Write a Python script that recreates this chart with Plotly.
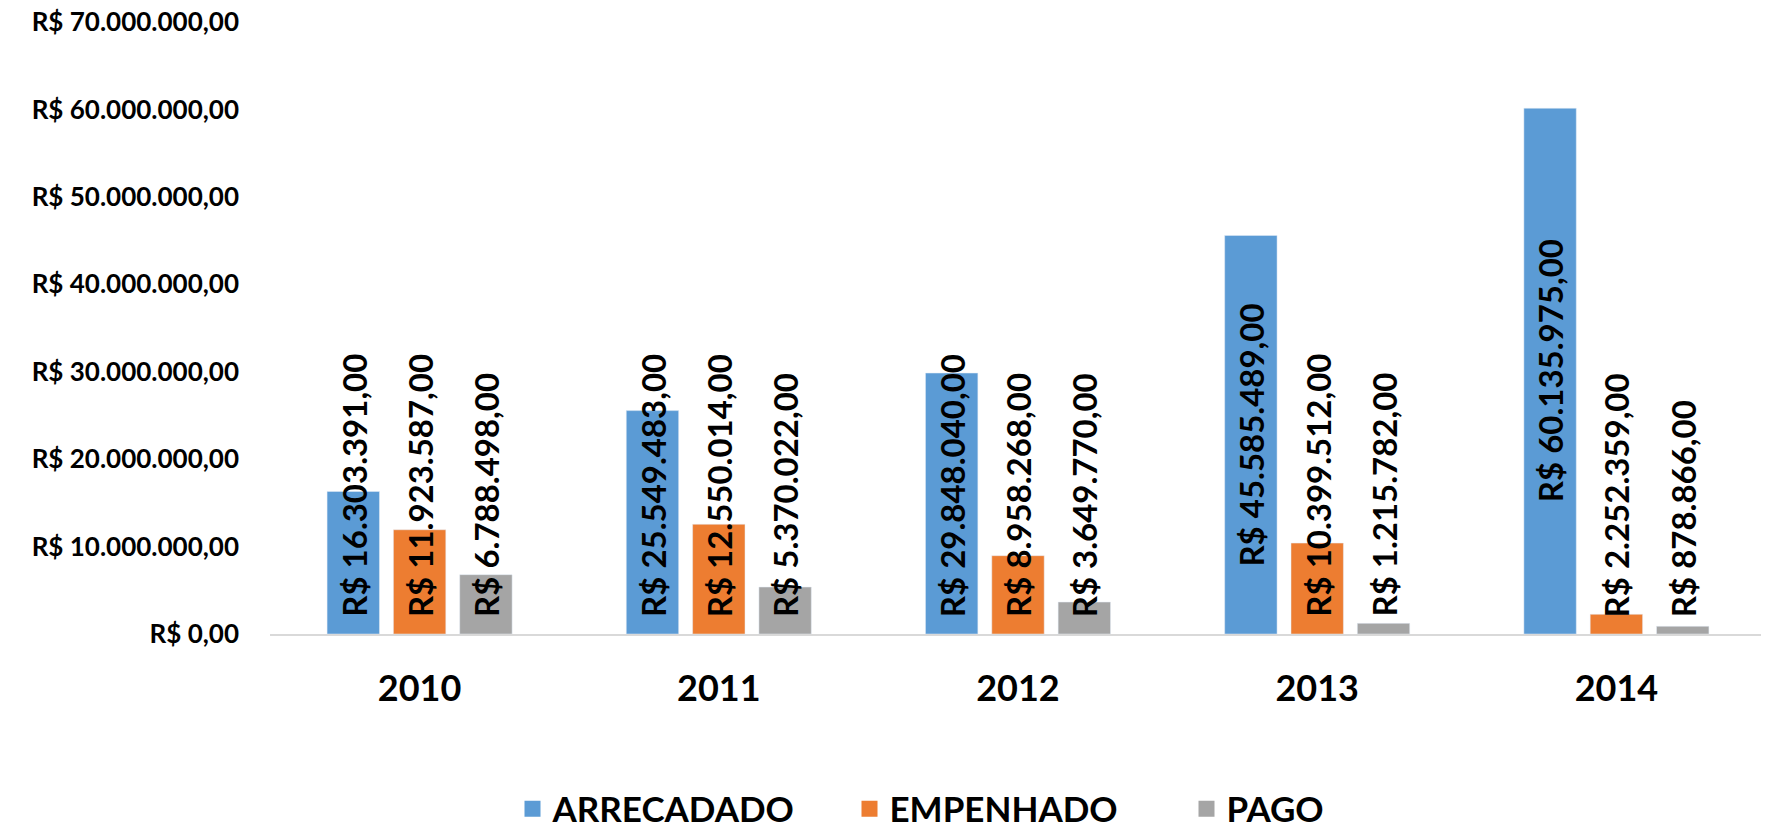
import plotly.graph_objects as go

years = ["2010", "2011", "2012", "2013", "2014"]
series_names = ["ARRECADADO", "EMPENHADO", "PAGO"]
arrecadado = [16303391, 25549483, 29848040, 45585489, 60135975]
empenhado = [11923587, 12550014, 8958268, 10399512, 2252359]
pago = [6788498, 5370022, 3649770, 1215782, 878866]
colors = ["#5B9BD5", "#ED7D31", "#A5A5A5"]
y_max = 70000000

FONT = "Lato"
W, H = 1769, 831
M_L, M_R, M_T, M_B = 262, 11, 14, 205
plot_h = H - M_T - M_B
BARGAP = 0.335
slot = (1 - BARGAP) / 3


def brl(v):
    s = f"{v:,.2f}"
    s = s.replace(",", "X").replace(".", ",").replace("X", ".")
    return "R$ " + s


fig = go.Figure()
all_series = [arrecadado, empenhado, pago]
for name, vals, col in zip(series_names, all_series, colors):
    fig.add_trace(go.Bar(x=years, y=vals, name=name, marker_color=col,
                         showlegend=False, hoverinfo="x+y"))
    fig.add_trace(go.Scatter(x=[None], y=[None], mode="markers", name=name,
                             marker=dict(symbol="square", size=16, color=col),
                             showlegend=True))

label_len_px = 300
pad_px = 19
lab_font = dict(family=FONT, size=33, color="#000000", weight="bold")
annotations = []
for j, vals in enumerate(all_series):
    for i, v in enumerate(vals):
        xpos = i + (j - 1) * slot
        bar_px = v / y_max * plot_h
        if bar_px >= label_len_px + 2 * pad_px:
            annotations.append(dict(x=xpos, y=v / 2, xref="x", yref="y",
                                    text=brl(v), textangle=-90, showarrow=False,
                                    xanchor="center", yanchor="middle", font=lab_font))
        else:
            annotations.append(dict(x=xpos, y=0, xref="x", yref="y",
                                    text=brl(v), textangle=-90, showarrow=False,
                                    xanchor="center", yanchor="bottom", yshift=pad_px - 4,
                                    font=lab_font))

fig.update_layout(
    width=W, height=H,
    margin=dict(l=M_L, r=M_R, t=M_T, b=M_B, autoexpand=False),
    paper_bgcolor="white", plot_bgcolor="white",
    barmode="group", bargap=BARGAP, bargroupgap=0.21,
    separators=",.",
    font=dict(family=FONT, color="#000000"),
    annotations=annotations,
    legend=dict(orientation="h", x=0.5, xanchor="center",
                y=-0.286, yanchor="middle",
                font=dict(family=FONT, size=35, color="#000000", weight="bold"),
                itemsizing="trace", tracegroupgap=0, itemwidth=30,
                entrywidth=292, entrywidthmode="pixels"),
    xaxis=dict(type="category", showline=True, linecolor="#D9D9D9", linewidth=2,
               showgrid=False, ticks="", ticklabelstandoff=22, automargin=False,
               tickfont=dict(family=FONT, size=36, color="#000000", weight="bold")),
    yaxis=dict(range=[0, y_max], dtick=10000000, tickformat=",.2f", tickprefix="R$ ",
               showgrid=False, zeroline=False, showline=False, ticks="",
               ticklabelstandoff=30, automargin=False, ticklabeloverflow="allow",
               tickfont=dict(family=FONT, size=26, color="#000000", weight="bold")),
)

fig.write_html("out.html")
